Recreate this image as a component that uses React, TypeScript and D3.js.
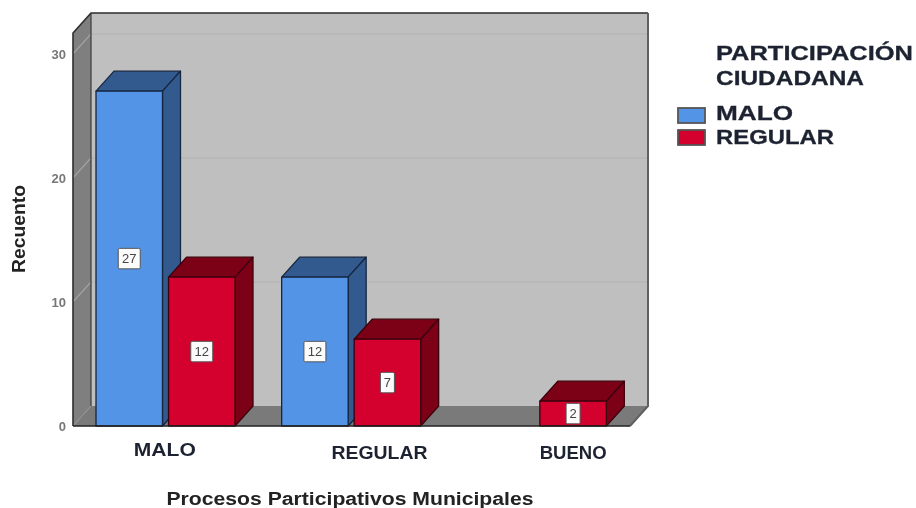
import React from "react";
import * as d3 from "d3";

const categories = ["MALO", "REGULAR", "BUENO"];
const seriesNames = ["MALO", "REGULAR"];
const maloValues = [27, 12, 0];
const regularValues = [12, 7, 2];
const yTicks = [0, 10, 20, 30];
const labelShift = [-1, 28, 36];
const labelWidths = [62, 96, 67];
const legendWidths = [77, 118];

const colors = {
  MALO: { front: "#5294e6", top: "#335a8f", side: "#335a8f", edge: "#16263f" },
  REGULAR: { front: "#d4002d", top: "#7c0019", side: "#7c0019", edge: "#3d000c" },
};
const W = 916, H = 508;
const left = 73, right = 630, floorY = 426, topY = 33;
const dx = 18, dy = -20;
const font = "'Liberation Sans', Arial, sans-serif";

const y = d3.scaleLinear().domain([0, 31.69]).range([floorY, topY]);
const x0 = d3.scaleBand<string>().domain(categories).range([left, right]);
const x1 = d3.scaleBand<string>().domain(seriesNames).range([23, 162]).paddingInner(0.083);
const pts = (a: number[][]) => a.map((p) => p.join(",")).join(" ");

function Bar({ series, cat, value }: { series: "MALO" | "REGULAR"; cat: string; value: number }) {
  if (!value) return null;
  const c = colors[series];
  const xa = x0(cat)! + x1(series)!;
  const w = x1.bandwidth();
  const xb = xa + w;
  const yt = y(value);
  const lw = value < 10 ? 14 : 22;
  const lh = 20.5;
  const cx = (xa + xb) / 2, cy = (yt + floorY) / 2;
  return (
    <g stroke={c.edge} strokeWidth={1.3} strokeLinejoin="round">
      <polygon points={pts([[xa, yt], [xa + dx, yt + dy], [xb + dx, yt + dy], [xb, yt]])} fill={c.top} />
      <polygon points={pts([[xb, yt], [xb + dx, yt + dy], [xb + dx, floorY + dy], [xb, floorY]])} fill={c.side} />
      <rect x={xa} y={yt} width={w} height={floorY - yt} fill={c.front} />
      <rect x={cx - lw / 2} y={cy - lh / 2} width={lw} height={lh} rx={1.5} fill="#fbfbfb" stroke="#555" strokeWidth={1} />
      <text x={cx} y={cy + 4.5} textAnchor="middle" fontSize={13} fill="#444" stroke="none" fontFamily={font}>{value}</text>
    </g>
  );
}

export default function App() {
  return (
    <svg width={W} height={H} viewBox={`0 0 ${W} ${H}`} style={{ position: "absolute", left: 0, top: 0, background: "#fff" }}>
      <defs>
        <filter id="soft" x="-5%" y="-5%" width="110%" height="110%">
          <feGaussianBlur stdDeviation="0.55" />
        </filter>
      </defs>
      <g filter="url(#soft)">
        <rect x={left + dx} y={topY + dy} width={right - left} height={floorY - topY} fill="#bfbfbf" />
        <polygon points={pts([[left, topY], [left + dx, topY + dy], [left + dx, floorY + dy], [left, floorY]])} fill="#7f7f7f" />
        <polygon points={pts([[left, floorY], [left + dx, floorY + dy], [right + dx, floorY + dy], [right, floorY]])} fill="#7a7a7a" />
        {yTicks.filter((t) => t > 0).map((t) => (
          <g key={t} fill="none" strokeWidth={1.1}>
            <line x1={left + dx} x2={right + dx} y1={y(t) + dy} y2={y(t) + dy} stroke="#b2b2b2" />
            <line x1={left} x2={left + dx} y1={y(t)} y2={y(t) + dy} stroke="#a8a8a8" />
          </g>
        ))}
        <line x1={left} x2={left + dx} y1={floorY} y2={floorY + dy} stroke="#949494" />
        <polyline points={pts([[left, floorY], [left, topY], [left + dx, topY + dy], [right + dx, topY + dy]])} fill="none" stroke="#2e2e2e" strokeWidth={1.6} />
        <line x1={left + dx} x2={left + dx} y1={topY + dy} y2={floorY + dy} stroke="#3a3a3a" strokeWidth={1.2} />
        <polyline points={pts([[right + dx, topY + dy], [right + dx, floorY + dy], [right, floorY]])} fill="none" stroke="#606060" strokeWidth={2} />
        {categories.map((cat, i) => (
          <g key={cat}>
            <Bar series="MALO" cat={cat} value={maloValues[i]} />
            <Bar series="REGULAR" cat={cat} value={regularValues[i]} />
          </g>
        ))}
        <line x1={left} x2={right} y1={floorY} y2={floorY} stroke="#222" strokeWidth={1.5} />
        {yTicks.map((t) => (
          <text key={t} x={66} y={y(t) + 5} textAnchor="end" fontSize={13} fontWeight={700} fill="#777" fontFamily={font}>{t}</text>
        ))}
        {categories.map((cat, i) => (
          <text key={cat} x={x0(cat)! + x0.bandwidth() / 2 + labelShift[i]} y={i === 0 ? 456 : 458.5} textAnchor="middle" fontSize={i === 0 ? 19 : 18} fontWeight={700} fill="#1d2430" fontFamily={font} textLength={labelWidths[i]} lengthAdjust="spacingAndGlyphs">{cat}</text>
        ))}
        <text x={350} y={504.5} textAnchor="middle" fontSize={18} fontWeight={700} fill="#222" fontFamily={font} textLength={367} lengthAdjust="spacingAndGlyphs">Procesos Participativos Municipales</text>
        <text transform="translate(25,229) rotate(-90)" textAnchor="middle" fontSize={18} fontWeight={700} fill="#222" fontFamily={font} textLength={88} lengthAdjust="spacingAndGlyphs">Recuento</text>
        <text x={716} y={60} fontSize={20} fontWeight={700} fill="#1d2430" stroke="#1d2430" strokeWidth={0.3} fontFamily={font} textLength={197} lengthAdjust="spacingAndGlyphs">PARTICIPACIÓN</text>
        <text x={716} y={84.5} fontSize={20} fontWeight={700} fill="#1d2430" stroke="#1d2430" strokeWidth={0.3} fontFamily={font} textLength={148} lengthAdjust="spacingAndGlyphs">CIUDADANA</text>
        {seriesNames.map((s, i) => (
          <g key={s}>
            <rect x={678} y={108 + i * 22} width={27} height={15} fill={colors[s as "MALO"].front} stroke="#555" strokeWidth={1.8} />
            <text x={716} y={120 + i * 24} fontSize={20} fontWeight={700} fill="#1d2430" stroke="#1d2430" strokeWidth={0.3} fontFamily={font} textLength={legendWidths[i]} lengthAdjust="spacingAndGlyphs">{s}</text>
          </g>
        ))}
      </g>
    </svg>
  );
}
